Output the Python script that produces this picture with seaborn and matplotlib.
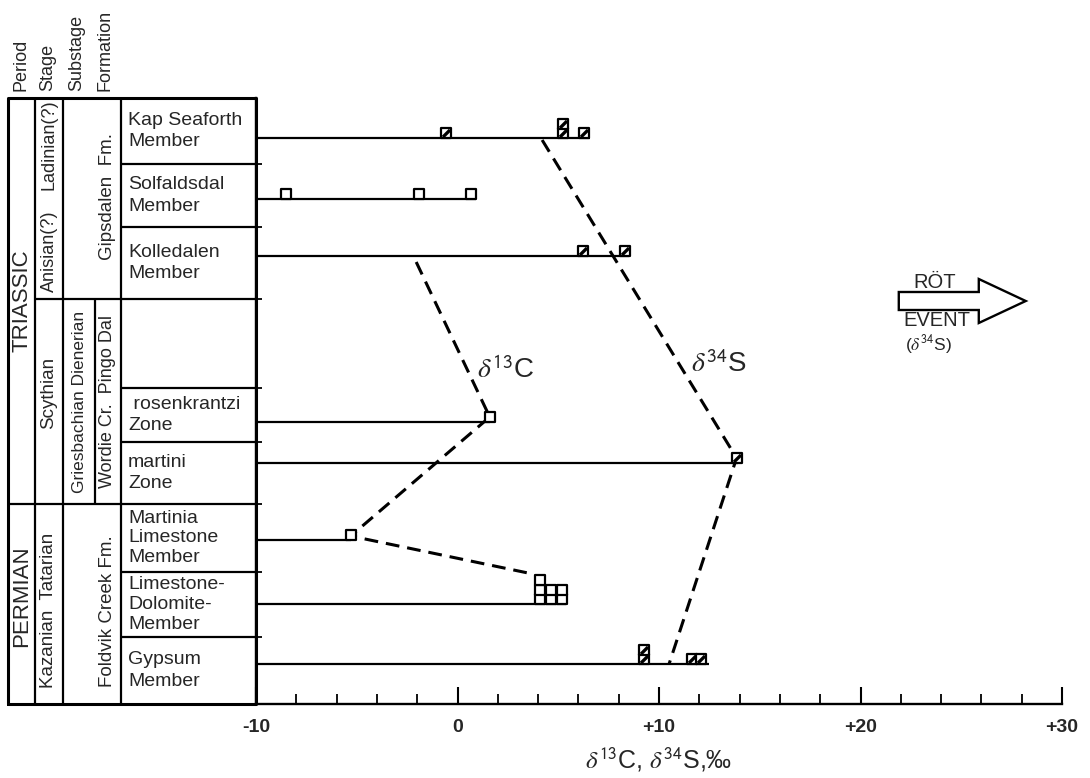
import numpy as np
import pandas as pd
import matplotlib
matplotlib.use("Agg")
import matplotlib.pyplot as plt
import seaborn as sns
from matplotlib.patches import FancyArrow
from matplotlib.path import Path
from matplotlib.markers import MarkerStyle

# ---------------- data ----------------
# stratigraphic column, levels = height above section base (top of column = 606)
unit_labels = ["Kap Seaforth\nMember", "Solfaldsdal\nMember", "Kolledalen\nMember", "",
               " rosenkrantzi\nZone", "martini\nZone", "Martinia\nLimestone\nMember",
               "Limestone-\nDolomite-\nMember", "Gypsum\nMember"]
unit_tops = [606, 540, 477, 405, 316, 262, 200, 132, 67]
unit_bases = [540, 477, 405, 316, 262, 200, 132, 67, 0]

# sampled horizons
sampled_units = ["Kap Seaforth", "Solfaldsdal", "Kolledalen", "rosenkrantzi",
                 "martini", "Martinia", "Limestone-Dolomite", "Gypsum"]
sample_levels = [566, 505, 448, 282, 241, 164, 100, 40]
line_ends = [6.6, 0.9, 8.5, 1.6, 13.9, -5.3, 5.4, 12.5]

# delta13C samples (open squares)
c13_unit = ["Solfaldsdal", "Solfaldsdal", "Solfaldsdal", "rosenkrantzi", "Martinia",
            "Limestone-Dolomite", "Limestone-Dolomite", "Limestone-Dolomite"]
c13_value = [-8.5, -1.9, 0.65, 1.6, -5.3, 4.1, 4.65, 5.2]
c13_count = [1, 1, 1, 1, 1, 3, 2, 2]

# delta34S samples (hatched squares)
s34_unit = ["Kap Seaforth", "Kap Seaforth", "Kap Seaforth", "Kolledalen", "Kolledalen",
            "martini", "Gypsum", "Gypsum", "Gypsum"]
s34_value = [-0.55, 5.25, 6.3, 6.25, 8.3, 13.85, 9.25, 11.65, 12.1]
s34_count = [1, 2, 1, 1, 1, 1, 2, 1, 1]

# trend lines
c13_trend_x = [-2.05, 1.6, -5.3, 3.5]
c13_trend_level = [442, 287, 168, 131]
s34_trend_x = [4.2, 13.85, 10.5]
s34_trend_level = [564, 246, 40]

xtick_major = [-10, 0, 10, 20, 30]
xtick_labels = ["-10", "0", "+10", "+20", "+30"]

# ---------------- style ----------------
sns.set_theme(style="white")
plt.rcParams["font.family"] = ["Liberation Sans", "DejaVu Sans"]
plt.rcParams["mathtext.fontset"] = "stix"

W, H = 1090, 778
fig = plt.figure(figsize=(W / 100, H / 100), dpi=100)
fig.patch.set_facecolor("white")

ax = fig.add_axes([256 / W, (H - 704) / H, (1062 - 256) / W, (704 - 98) / H])
ax.set_xlim(-10, 30)
ax.set_ylim(0, 606)
ax.set_facecolor("none")

lvl = dict(zip(sampled_units, sample_levels))
MSIZE = 9.5  # marker height in level units (pixels)


def expand(units, values, counts):
    rows = []
    for u, v, c in zip(units, values, counts):
        for k in range(c):
            rows.append({"unit": u, "value": v,
                         "level": lvl[u] + MSIZE / 2 + MSIZE * k})
    return pd.DataFrame(rows)


c13_df = expand(c13_unit, c13_value, c13_count)
s34_df = expand(s34_unit, s34_value, s34_count)

# horizon lines
ax.hlines(sample_levels, -10, line_ends, color="black", lw=1.6, zorder=2)

# trends
dash = (0, (4.5, 2.6))
sns.lineplot(x=c13_trend_x, y=c13_trend_level, sort=False, estimator=None,
             color="black", lw=2.2, linestyle=dash, ax=ax, zorder=3)
sns.lineplot(x=s34_trend_x, y=s34_trend_level, sort=False, estimator=None,
             color="black", lw=2.2, linestyle=dash, ax=ax, zorder=3)

# markers
sns.scatterplot(data=c13_df, x="value", y="level", marker="s", s=46, color="white",
                edgecolor="black", linewidth=1.6, ax=ax, zorder=5)
sns.scatterplot(data=s34_df, x="value", y="level", marker="s", s=46, color="white",
                edgecolor="black", linewidth=1.6, ax=ax, zorder=5)
slash = MarkerStyle(Path([(-1, -1), (1, 1)]))
sns.scatterplot(data=s34_df, x="value", y="level", marker=slash, s=26, color="black",
                edgecolor="black", linewidth=2.4, ax=ax, zorder=6)

# trend labels
ax.text(0.95, 334, r"$\delta^{\mathsf{13}}$C", fontsize=20, ha="left", va="center")
ax.text(11.6, 339, r"$\delta^{\mathsf{34}}$S", fontsize=20, ha="left", va="center")

# Röt event arrow
arr = FancyArrow(21.9, 403, 6.3, 0, width=18, head_width=44, head_length=2.33,
                 length_includes_head=True, facecolor="white", edgecolor="black",
                 lw=1.7, zorder=4)
ax.add_patch(arr)
ax.text(23.7, 421, "RÖT", fontsize=14.5, ha="center", va="center")
ax.text(23.8, 383, "EVENT", fontsize=14.5, ha="center", va="center")
ax.text(23.4, 360, r"($\delta^{\mathsf{34}}$S)", fontsize=12.5, ha="center", va="center")

# axes styling
for s in ["top", "right"]:
    ax.spines[s].set_visible(False)
for s in ["left", "bottom"]:
    ax.spines[s].set_color("black")
    ax.spines[s].set_linewidth(1.7)
ax.set_xticks(xtick_major)
ax.set_xticklabels(xtick_labels, fontsize=14, fontweight="bold")
ax.set_xticks(np.arange(-8, 30, 2), minor=True)
ax.tick_params(axis="x", which="major", direction="in", length=12, width=1.5,
               color="black", pad=11, bottom=True)
ax.tick_params(axis="x", which="minor", direction="in", length=7, width=1.3,
               color="black", bottom=True)
ax.set_yticks(unit_bases[:-1])
ax.set_yticklabels([])
ax.tick_params(axis="y", which="major", direction="in", length=4, width=1.3,
               color="black", left=True)
ax.set_xlabel(r"$\delta^{\mathsf{13}}$C, $\delta^{\mathsf{34}}$S,‰", fontsize=18)
ax.xaxis.set_label_coords(0.5, (704 - 760) / 606)
ax.xaxis.label.set_va("center")
ax.set_ylabel("")
ax.grid(False)

# ---------------- stratigraphic table ----------------
at = fig.add_axes([8 / W, (H - 704) / H, (256 - 8) / W, (704 - 98) / H])
at.set_xlim(8, 256)
at.set_ylim(0, 606)
at.axis("off")
lk = dict(color="black", lw=1.6, clip_on=False)
at.plot([8, 256, 256, 8, 8], [0, 0, 606, 606, 0], color="black", lw=2.2, clip_on=False)
at.vlines([35, 63, 121], 0, 606, **lk)
at.vlines([95], 200, 405, **lk)
at.hlines([200], 8, 256, **lk)
at.hlines([405], 35, 256, **lk)
at.hlines([540, 477, 316, 262, 132, 67], 121, 256, **lk)

for lab, t, b in zip(unit_labels, unit_tops, unit_bases):
    if lab:
        at.text(128, (t + b) / 2, lab, fontsize=14, ha="left", va="center",
                linespacing=1.32 if lab.count("\n") == 1 else 1.2)

rot = [("TRIASSIC", 22, 403, 16), ("PERMIAN", 22, 108, 16),
       ("Ladinian(?)", 49, 559, 13), ("Anisian(?)", 49, 453, 13),
       ("Scythian", 49, 311, 13.5), ("Kazanian  Tatarian", 49, 94, 13.5),
       ("Griesbachian Dienerian", 79, 302, 12.5),
       ("Gipsdalen  Fm.", 107, 507, 13.5), ("Wordie Cr.  Pingo Dal", 107, 302, 13),
       ("Foldvik Creek Fm.", 107, 93, 13.5)]
for txt, x, y, fs in rot:
    at.text(x, y, txt, rotation=90, fontsize=fs, ha="center", va="center")

# column headers
for txt, x in [("Period", 21), ("Stage", 48), ("Substage", 77), ("Formation", 105)]:
    fig.text(x / W, 1 - 91 / H, txt, rotation=90, fontsize=13, ha="center", va="bottom")

fig.savefig("out.png", dpi=100, facecolor="white")
